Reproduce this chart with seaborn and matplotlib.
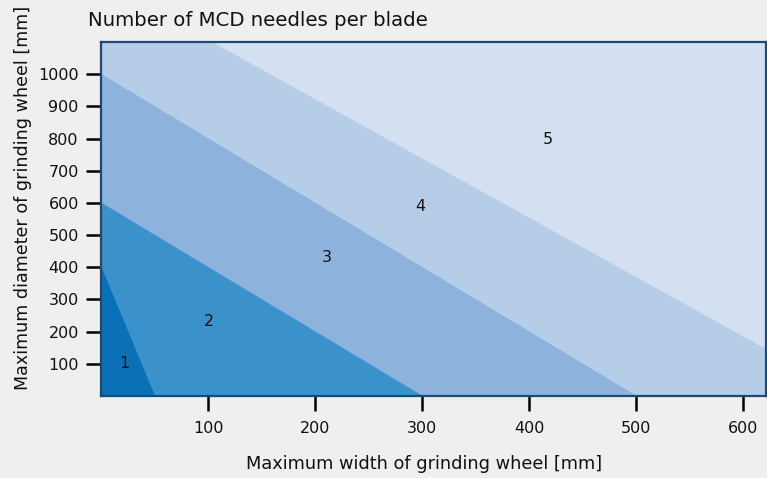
import matplotlib
matplotlib.use("Agg")
import matplotlib.pyplot as plt
import numpy as np
import pandas as pd
import seaborn as sns

# Zone boundaries: straight lines from (0, y_intercept) down to (x_intercept, 0)
zone_numbers = [1, 2, 3, 4, 5]
boundary_x_intercepts = [50, 300, 500, 700]
boundary_y_intercepts = [400, 600, 1000, 1290]
zone_colors = ["#0a71b6", "#3b91c9", "#8db3dd", "#b6cde8", "#d4e0f1"]

# Label positions for each zone
label_x = [22, 101, 211, 298, 418]
label_y = [100, 232, 430, 588, 796]

x_ticks = [100, 200, 300, 400, 500, 600]
y_ticks = [100, 200, 300, 400, 500, 600, 700, 800, 900, 1000]

sns.set_theme(style="white")
plt.rcParams["font.family"] = ["DejaVu Sans"]

fig = plt.figure(figsize=(7.67, 4.78), dpi=100, facecolor="#efefef")
ax = fig.add_axes([0.1317, 0.1715, 0.867, 0.7406])
ax.set_facecolor(zone_colors[-1])

xmax, ymax = 621.5, 1100

# Fill zones from the outermost boundary inward so the inner zones sit on top
for k in range(len(boundary_x_intercepts) - 1, -1, -1):
    xi, yi = boundary_x_intercepts[k], boundary_y_intercepts[k]
    xs = np.linspace(0, min(xi, xmax), 200)
    df = pd.DataFrame({"x": xs, "y": yi * (1 - xs / xi)})
    ax.fill_between(df["x"], 0, df["y"], color=zone_colors[k], linewidth=0, zorder=1)
    sns.lineplot(data=df, x="x", y="y", ax=ax, color=zone_colors[k],
                 linewidth=0.6, zorder=2)

for n, lx, ly in zip(zone_numbers, label_x, label_y):
    ax.text(lx, ly, str(n), ha="center", va="center", fontsize=11.5,
            color="#111111", zorder=5)

ax.set_xlim(0, xmax)
ax.set_ylim(0, ymax)
ax.set_xticks(x_ticks)
ax.set_yticks(y_ticks)
ax.tick_params(axis="both", direction="inout", length=22, width=1.8,
               color="black", labelsize=11.5, labelcolor="#111111",
               bottom=True, left=True)
ax.tick_params(axis="x", pad=7)
ax.tick_params(axis="y", pad=5)

for sp in ax.spines.values():
    sp.set_color("#1b4a74")
    sp.set_linewidth(1.6)
    sp.set_zorder(6)

ax.set_xlabel("Maximum width of grinding wheel [mm]", fontsize=12.8,
              color="#111111")
ax.set_ylabel("Maximum diameter of grinding wheel [mm]", fontsize=12.6,
              color="#111111")
ax.xaxis.set_label_coords((424 - 101) / 665, -(455 - 396) / 354)
ax.yaxis.set_label_coords(-(101 - 32) / 665, (396 - 198) / 354)
fig.text(88 / 767, 1 - 21 / 478, "Number of MCD needles per blade",
         fontsize=14.2, color="#111111", ha="left", va="center")

fig.savefig("out.png", dpi=100, facecolor=fig.get_facecolor())
